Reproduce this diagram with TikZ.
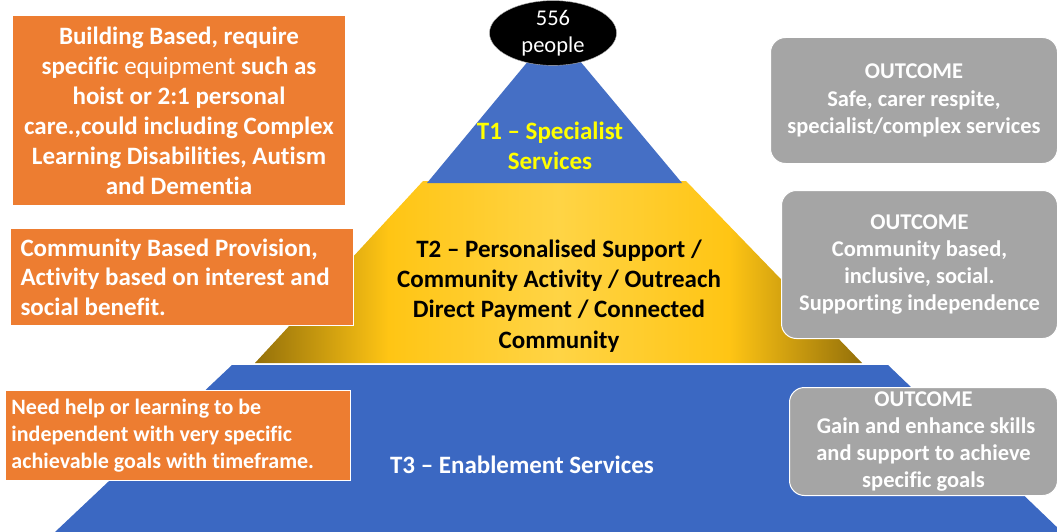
\documentclass[tikz,border=0pt]{standalone}
\usepackage{fontspec}
\setmainfont{Carlito}[Ligatures=CommonOff]
\usetikzlibrary{shapes.geometric}

\definecolor{tierblue}{HTML}{3B68C2}
\definecolor{tierorange}{HTML}{ED7D31}
\definecolor{outgray}{HTML}{A5A5A5}
\definecolor{goldlight}{HTML}{FFC514}
\definecolor{goldcentre}{HTML}{FFD445}
\definecolor{golddark}{HTML}{94700A}
\definecolor{tieryellow}{HTML}{FFFF00}
\pgfdeclarehorizontalshading{goldband}{100bp}{color(0bp)=(golddark); color(25bp)=(golddark);
	color(36bp)=(goldlight); color(50bp)=(goldcentre); color(64bp)=(goldlight); color(75bp)=(golddark); color(100bp)=(golddark)}

\begin{document}
\begin{tikzpicture}[x=1pt,y=-1pt,
	needbox/.style={fill=tierorange, draw=white, line width=1pt, text=white, inner sep=0pt},
	outbox/.style={fill=outgray, draw=white, line width=1pt, rounded corners=15pt, text=white, inner sep=0pt, align=center,
		font=\bfseries\fontsize{22.5}{27.3}\selectfont},
	tierlabel/.style={align=center, font=\bfseries\fontsize{25}{30.3}\selectfont}]
	\useasboundingbox (0,0) rectangle (1057,532);
	% pyramid
	\fill[tierblue] (232,365)--(888,365)--(1062,532)--(55,532)--cycle;
	\shade[shading=goldband] (423,181)--(686,181)--(862,363)--(255,363)--cycle;
	\fill[tierblue!95!white] (554,30)--(682,183)--(427,183)--cycle;
	\node[ellipse, fill=black, draw=white!70!black, minimum width=127, minimum height=52, inner sep=0pt,
		align=center, text=white, font=\fontsize{22.5}{27}\selectfont] (count) at (553,33) {556\\people};
	\node[tierlabel, text=tieryellow] (t1) at (550,146) {T1 -- Specialist\\Services};
	\node[tierlabel, text=black] (t2) at (559,296) {T2 -- Personalised Support /\\Community Activity / Outreach\\Direct Payment / Connected\\Community};
	\node[tierlabel, text=white] (t3) at (522,465) {T3 -- Enablement Services};
	% left notes
	\node[needbox, anchor=north west, minimum width=333, minimum height=190, align=center,
		font=\bfseries\fontsize{25}{30}\selectfont] (build) at (12,15)
		{Building Based, require\\specific \textmd{equipment} such as\\hoist or 2:1 personal\\care.,could including Complex\\Learning Disabilities, Autism\\and Dementia};
	\node[needbox, anchor=north west, minimum width=343, minimum height=97, text width=323, align=flush left,
		font=\bfseries\fontsize{25}{29.5}\selectfont] (comm) at (10,228)
		{Community Based Provision,\\Activity based on interest and\\social benefit.};
	\node[needbox, anchor=north west, minimum width=345, minimum height=90, text width=333, align=flush left,
		font=\bfseries\fontsize{22}{27}\selectfont] (enab) at (5,390)
		{Need help or learning to be\\independent with very specific\\achievable goals with timeframe.};
	% outcomes
	\node[outbox, anchor=north west, minimum width=287, minimum height=126] (out1) at (770,37)
		{OUTCOME\\Safe, carer respite,\\specialist/complex services};
	\node[outbox, anchor=north west, minimum width=276, minimum height=148] (out2) at (781,190)
		{OUTCOME\\Community based,\\inclusive, social.\\Supporting independence};
	\node[outbox, anchor=north west, minimum width=268, minimum height=108] (out3) at (789,387)
		{OUTCOME\\\ Gain and enhance skills\\and support to achieve\\specific goals};
\end{tikzpicture}
\end{document}
